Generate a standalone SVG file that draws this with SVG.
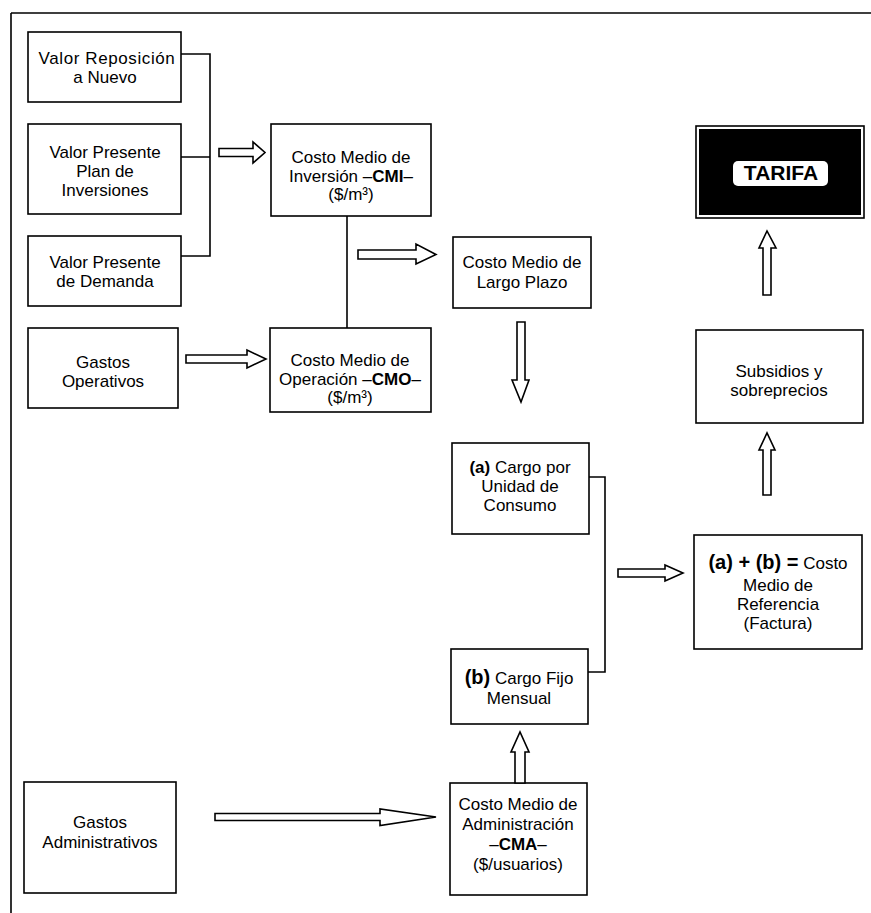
<svg xmlns="http://www.w3.org/2000/svg" width="871" height="913" viewBox="0 0 871 913">
  <style>
    .box { fill: #fff; stroke: #000; stroke-width: 1.6; }
    .lbl { font-family: "Liberation Sans", Arial, Helvetica, sans-serif; font-size: 17px; fill: #000; text-anchor: middle; }
    .b { font-weight: bold; }
    .big { font-weight: bold; font-size: 20px; }
    .line { fill: none; stroke: #000; stroke-width: 1.6; }
    .arrow { fill: #fff; stroke: #000; stroke-width: 1.6; stroke-linejoin: miter; }
  </style>

  <rect width="871" height="913" fill="#fff"/>

  <!-- page frame: top and left rules -->
  <g id="frame">
    <path class="line" d="M11,13 H871 M11,13 V913" stroke-width="2"/>
  </g>

  <g id="n-valor-reposicion">
    <rect class="box" x="28" y="32" width="153" height="70"/>
    <text class="lbl" x="107" y="64" letter-spacing="0.6">Valor Reposición</text>
    <text class="lbl" x="105" y="83">a Nuevo</text>
  </g>

  <g id="n-valor-plan">
    <rect class="box" x="28" y="124" width="153" height="90"/>
    <text class="lbl" x="105" y="158">Valor Presente</text>
    <text class="lbl" x="105" y="177">Plan de</text>
    <text class="lbl" x="105" y="196">Inversiones</text>
  </g>

  <g id="n-valor-demanda">
    <rect class="box" x="28" y="236" width="153" height="70"/>
    <text class="lbl" x="105" y="268">Valor Presente</text>
    <text class="lbl" x="105" y="287">de Demanda</text>
  </g>

  <g id="n-gastos-operativos">
    <rect class="box" x="28" y="328" width="150" height="80"/>
    <text class="lbl" x="103" y="368">Gastos</text>
    <text class="lbl" x="103" y="387">Operativos</text>
  </g>

  <g id="n-gastos-administrativos">
    <rect class="box" x="24" y="782" width="152" height="111"/>
    <text class="lbl" x="100" y="828">Gastos</text>
    <text class="lbl" x="100" y="848">Administrativos</text>
  </g>

  <g id="n-cmi">
    <rect class="box" x="271" y="124" width="160" height="92"/>
    <text class="lbl" x="351" y="163">Costo Medio de</text>
    <text class="lbl" x="351" y="182">Inversión –<tspan class="b">CMI</tspan>–</text>
    <text class="lbl" x="351" y="200">($/m³)</text>
  </g>

  <g id="n-cmo">
    <rect class="box" x="270" y="328" width="161" height="84"/>
    <text class="lbl" x="350" y="366">Costo Medio de</text>
    <text class="lbl" x="350" y="385">Operación –<tspan class="b">CMO</tspan>–</text>
    <text class="lbl" x="350" y="403">($/m³)</text>
  </g>

  <g id="n-largo-plazo">
    <rect class="box" x="453" y="237" width="138" height="71"/>
    <text class="lbl" x="522" y="268">Costo Medio de</text>
    <text class="lbl" x="522" y="288">Largo Plazo</text>
  </g>

  <g id="n-cargo-unidad">
    <rect class="box" x="452" y="443" width="137" height="91"/>
    <text class="lbl" x="520" y="473"><tspan class="b">(a)</tspan> Cargo por</text>
    <text class="lbl" x="520" y="492">Unidad de</text>
    <text class="lbl" x="520" y="511">Consumo</text>
  </g>

  <g id="n-cargo-fijo">
    <rect class="box" x="451" y="649" width="137" height="75"/>
    <text class="lbl" x="519" y="684"><tspan class="big">(b)</tspan> Cargo Fijo</text>
    <text class="lbl" x="519" y="704">Mensual</text>
  </g>

  <g id="n-cma">
    <rect class="box" x="450" y="783" width="137" height="112"/>
    <text class="lbl" x="518" y="810">Costo Medio de</text>
    <text class="lbl" x="518" y="830">Administración</text>
    <text class="lbl" x="518" y="850">–<tspan class="b">CMA</tspan>–</text>
    <text class="lbl" x="518" y="870">($/usuarios)</text>
  </g>

  <g id="n-costo-referencia">
    <rect class="box" x="694" y="535" width="168" height="114"/>
    <text class="lbl" x="778" y="569"><tspan class="big">(a) + (b) =</tspan> Costo</text>
    <text class="lbl" x="778" y="591">Medio de</text>
    <text class="lbl" x="778" y="610">Referencia</text>
    <text class="lbl" x="778" y="629">(Factura)</text>
  </g>

  <g id="n-subsidios">
    <rect class="box" x="696" y="330" width="167" height="93"/>
    <text class="lbl" x="779" y="377">Subsidios y</text>
    <text class="lbl" x="779" y="396">sobreprecios</text>
  </g>

  <g id="n-tarifa">
    <rect x="696" y="126" width="168" height="92" fill="#fff" stroke="#000" stroke-width="1.6"/>
    <rect x="699" y="129" width="162" height="86" fill="#000"/>
    <rect x="733" y="161" width="95" height="25" rx="5" fill="#fff"/>
    <text class="lbl" x="781" y="180" style="font-weight:bold;font-size:21px">TARIFA</text>
  </g>

  <g id="connectors">
    <!-- bracket joining the three valuation inputs -->
    <path class="line" d="M181,54 H210 V256 H181 M181,157 H210"/>
    <!-- CMI / CMO link -->
    <path class="line" d="M347,216 V328"/>
    <!-- (a) / (b) bracket -->
    <path class="line" d="M589,477 H605 V672 H588"/>

    <!-- hollow block arrows -->
    <path class="arrow" d="M219,148.5 H253 V142 L265,152.5 L253,163 V156.5 H219 Z"/>
    <path class="arrow" d="M358,250 H416 V244 L436,254.5 L416,264 V259 H358 Z"/>
    <path class="arrow" d="M186,355 H247 V350 L266,359 L247,368 V363 H186 Z"/>
    <path class="arrow" d="M517,322 H525 V380 H529 L521,402 L512,380 H517 Z"/>
    <path class="arrow" d="M618,569 H665 V565 L683,573 L665,581 V577 H618 Z"/>
    <path class="arrow" d="M515,783 V752 H511 L520,732 L529,752 H525 V783 Z"/>
    <path class="arrow" d="M215,813.5 H380 V809 L436,817 L380,825.5 V820.5 H215 Z"/>
    <path class="arrow" d="M763,495 V450 H759 L767,433 L775,450 H771 V495 Z"/>
    <path class="arrow" d="M763,295 V248 H759 L767,231 L776,248 H771 V295 Z"/>
  </g>
</svg>
